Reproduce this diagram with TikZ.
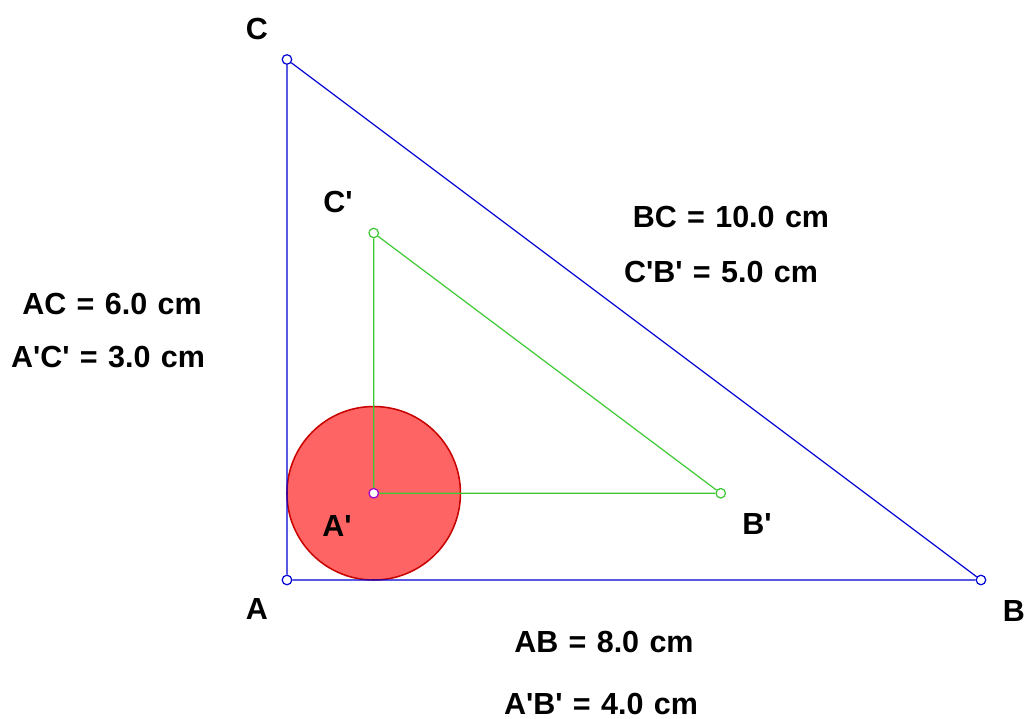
\documentclass[tikz,border=0pt]{standalone}
\usepackage{fontspec}
\newfontfamily\labfont{Liberation Sans}
\newcommand\labsize{\labfont\fontsize{10}{12}\selectfont\bfseries\spaceskip=0.34em\relax}
\definecolor{lineblue}{RGB}{0,0,210}
\definecolor{linegreen}{RGB}{60,200,50}
\definecolor{discred}{RGB}{255,100,100}
\definecolor{rimred}{RGB}{200,0,0}
\definecolor{ptpurple}{RGB}{160,0,200}
\tikzset{
  pt/.style={circle,draw=#1,fill=white,inner sep=0pt,minimum size=0.11cm,line width=0.4pt},
  lab/.style={anchor=base,font=\labsize,inner sep=0pt}
}
\begin{document}
\begin{tikzpicture}
            \useasboundingbox (-3.308,-1.591) rectangle (8.496,6.686);
            \fill[discred,draw=rimred,line width=0.5pt] (1,1) circle (1);
            \node[pt=lineblue] (A) at (0,0) {};
            \node[pt=lineblue] (B) at (8,0) {};
            \node[pt=lineblue] (C) at (0,6) {};
            \node[pt=ptpurple] (A1) at (1,1) {};
            \node[pt=linegreen] (B1) at (5,1) {};
            \node[pt=linegreen] (C1) at (1,4) {};
            \draw[lineblue,line width=0.4pt] (A) -- (B) -- (C) -- (A);
            \draw[linegreen,line width=0.4pt] (A1) -- (B1) -- (C1) -- (A1);
            \node[lab] (labA) at (-0.346,-0.461) {A};
            \node[lab] (labB) at (8.380,-0.473) {B};
            \node[lab] (labC) at (-0.346,6.236) {C};
            \node[lab] (labA1) at (0.576,0.507) {A'};
            \node[lab] (labB1) at (5.418,0.530) {B'};
            \node[lab] (labC1) at (0.588,4.231) {C'};
            \node[lab] (ab) at (3.654,-0.841) {AB = 8.0 cm};
            \node[lab] (ab1) at (3.620,-1.556) {A'B' = 4.0 cm};
            \node[lab] (ac) at (-2.017,3.055) {AC = 6.0 cm};
            \node[lab] (ac1) at (-2.063,2.455) {A'C' = 3.0 cm};
            \node[lab] (bc) at (5.118,4.069) {BC = 10.0 cm};
            \node[lab] (cb1) at (5.003,3.424) {C'B' = 5.0 cm};
          \end{tikzpicture}
\end{document}
